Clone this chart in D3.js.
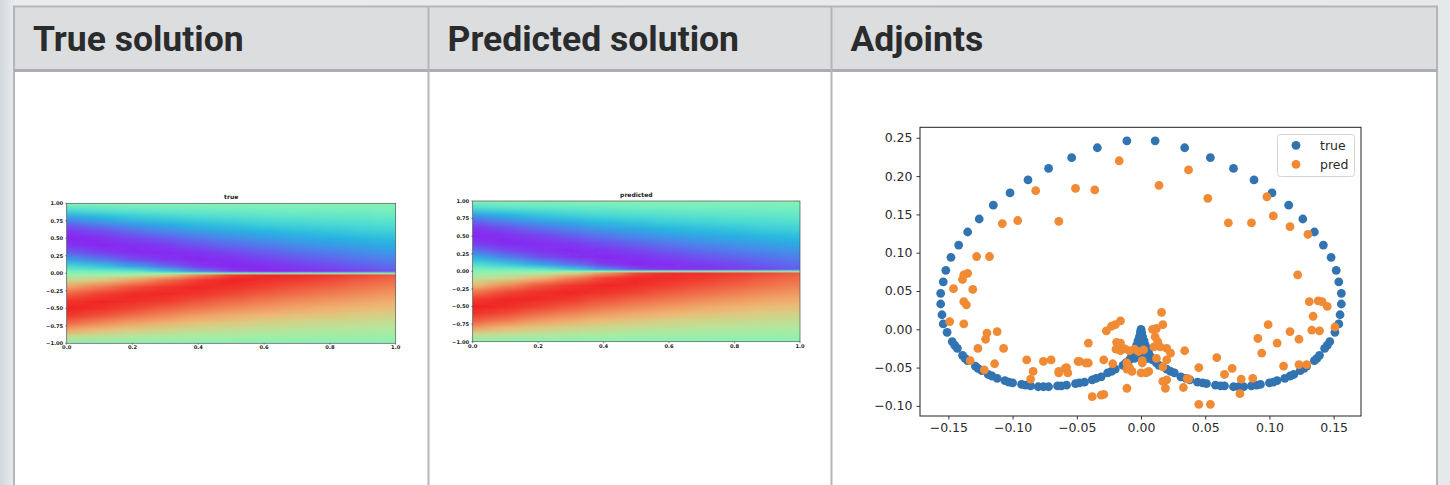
<!DOCTYPE html>
<html>
<head>
<meta charset="utf-8">
<script src="https://cdn.jsdelivr.net/npm/d3@7"></script>
<style>
  html, body { margin: 0; padding: 0; background: #e8ebee; }
  svg { display: block; }
</style>
</head>
<body>
<svg id="page" width="1450" height="485"></svg>
<script>
// ---- data ----
var headers = ["True solution", "Predicted solution", "Adjoints"];

// heatmap sample grid (time columns, space rows)
var tCols = [0, 0.1, 0.2, 0.3, 0.4, 0.5, 0.6, 0.7, 0.8, 0.9, 1.0];
var yRows = [1, 0.9, 0.8, 0.7, 0.6, 0.5, 0.4, 0.3, 0.2, 0.1, 0.03, 0, -0.03,
             -0.1, -0.2, -0.3, -0.4, -0.5, -0.6, -0.7, -0.8, -0.9, -1];

var trueU = [
  [0,-0.31,-0.59,-0.81,-0.95,-1,-0.95,-0.81,-0.59,-0.31,-0.09,0,0.09,0.31,0.59,0.81,0.95,1,0.95,0.81,0.59,0.31,0],
  [0,-0.25,-0.49,-0.70,-0.87,-0.97,-0.99,-0.92,-0.73,-0.41,-0.13,0,0.13,0.41,0.73,0.92,0.99,0.97,0.87,0.70,0.49,0.25,0],
  [0,-0.21,-0.41,-0.60,-0.77,-0.90,-0.97,-0.98,-0.87,-0.58,-0.20,0,0.20,0.58,0.87,0.98,0.97,0.90,0.77,0.60,0.41,0.21,0],
  [0,-0.18,-0.36,-0.53,-0.68,-0.82,-0.93,-0.98,-0.96,-0.77,-0.40,0,0.40,0.77,0.96,0.98,0.93,0.82,0.68,0.53,0.36,0.18,0],
  [0,-0.155,-0.31,-0.46,-0.60,-0.74,-0.85,-0.95,-0.99,-0.94,-0.70,0,0.70,0.94,0.99,0.95,0.85,0.74,0.60,0.46,0.31,0.155,0],
  [0,-0.14,-0.28,-0.42,-0.54,-0.67,-0.78,-0.89,-0.96,-1,-0.93,0,0.93,1,0.96,0.89,0.78,0.67,0.54,0.42,0.28,0.14,0],
  [0,-0.12,-0.25,-0.37,-0.49,-0.61,-0.72,-0.82,-0.91,-0.97,-0.99,0,0.99,0.97,0.91,0.82,0.72,0.61,0.49,0.37,0.25,0.12,0],
  [0,-0.11,-0.23,-0.34,-0.45,-0.56,-0.66,-0.76,-0.85,-0.93,-0.97,0,0.97,0.93,0.85,0.76,0.66,0.56,0.45,0.34,0.23,0.11,0],
  [0,-0.10,-0.21,-0.31,-0.42,-0.52,-0.61,-0.71,-0.80,-0.88,-0.94,0,0.94,0.88,0.80,0.71,0.61,0.52,0.42,0.31,0.21,0.10,0],
  [0,-0.10,-0.20,-0.29,-0.38,-0.48,-0.57,-0.66,-0.74,-0.82,-0.89,0,0.89,0.82,0.74,0.66,0.57,0.48,0.38,0.29,0.20,0.10,0],
  [0,-0.09,-0.18,-0.27,-0.36,-0.45,-0.53,-0.61,-0.69,-0.77,-0.83,0,0.83,0.77,0.69,0.61,0.53,0.45,0.36,0.27,0.18,0.09,0]
];

var predU = [
  [0,-0.30,-0.60,-0.83,-0.96,-0.99,-0.93,-0.76,-0.52,-0.27,-0.08,0,0.06,0.22,0.47,0.74,0.93,1,0.96,0.83,0.61,0.30,0],
  [0,-0.24,-0.50,-0.72,-0.88,-0.97,-0.98,-0.89,-0.69,-0.39,-0.12,0,0.10,0.33,0.66,0.90,0.99,0.98,0.88,0.72,0.50,0.25,0],
  [0,-0.21,-0.42,-0.61,-0.78,-0.91,-0.97,-0.96,-0.85,-0.56,-0.19,0,0.17,0.50,0.84,0.97,0.98,0.91,0.78,0.61,0.42,0.21,0],
  [0,-0.18,-0.36,-0.54,-0.69,-0.83,-0.93,-0.98,-0.95,-0.75,-0.38,0,0.35,0.72,0.95,0.99,0.94,0.83,0.69,0.54,0.37,0.18,0],
  [0,-0.16,-0.31,-0.46,-0.61,-0.74,-0.86,-0.95,-0.99,-0.93,-0.66,0,0.64,0.92,0.99,0.96,0.86,0.75,0.61,0.47,0.31,0.16,0],
  [0,-0.14,-0.28,-0.42,-0.55,-0.67,-0.79,-0.89,-0.96,-0.99,-0.90,0,0.90,0.99,0.97,0.90,0.79,0.68,0.55,0.42,0.28,0.14,0],
  [0,-0.12,-0.25,-0.37,-0.49,-0.61,-0.72,-0.82,-0.91,-0.97,-0.97,0,0.97,0.97,0.92,0.83,0.73,0.62,0.50,0.37,0.25,0.12,0],
  [0,-0.11,-0.23,-0.34,-0.45,-0.56,-0.66,-0.76,-0.85,-0.93,-0.96,0,0.96,0.93,0.86,0.77,0.67,0.56,0.45,0.34,0.23,0.11,0],
  [0,-0.10,-0.21,-0.31,-0.42,-0.52,-0.62,-0.71,-0.80,-0.88,-0.93,0,0.93,0.88,0.81,0.72,0.62,0.52,0.42,0.31,0.21,0.10,0],
  [0,-0.10,-0.20,-0.29,-0.38,-0.48,-0.57,-0.66,-0.75,-0.82,-0.88,0,0.88,0.82,0.75,0.66,0.57,0.48,0.38,0.29,0.20,0.10,0],
  [0,-0.09,-0.18,-0.27,-0.36,-0.45,-0.53,-0.62,-0.70,-0.77,-0.82,0,0.82,0.77,0.70,0.62,0.54,0.45,0.36,0.27,0.18,0.09,0]
];

var heatXTicks = [0, 0.2, 0.4, 0.6, 0.8, 1.0];
var heatYTicks = [1, 0.75, 0.5, 0.25, 0, -0.25, -0.5, -0.75, -1];

// adjoint scatter points [x, y]
var trueAdj = [
  [-0.011,0.246],[-0.034,0.237],[-0.054,0.224],[-0.072,0.210],[-0.088,0.195],[-0.102,0.178],[-0.115,0.162],
  [-0.126,0.144],[-0.135,0.127],[-0.142,0.110],[-0.148,0.094],[-0.152,0.077],[-0.154,0.062],[-0.156,0.047],
  [-0.156,0.033],[-0.155,0.019],[-0.154,0.007],[-0.151,-0.004],[-0.147,-0.016],[-0.145,-0.021],[-0.143,-0.025],
  [-0.139,-0.034],[-0.137,-0.038],[-0.135,-0.041],[-0.129,-0.048],[-0.127,-0.051],[-0.124,-0.054],[-0.119,-0.059],
  [-0.116,-0.061],[-0.112,-0.064],[-0.106,-0.067],[-0.103,-0.069],[-0.100,-0.070],[-0.093,-0.072],[-0.090,-0.073],
  [-0.086,-0.074],[-0.080,-0.075],[-0.076,-0.075],[-0.072,-0.075],[-0.065,-0.074],[-0.062,-0.074],[-0.058,-0.073],
  [-0.051,-0.071],[-0.048,-0.070],[-0.044,-0.069],[-0.038,-0.066],[-0.035,-0.064],[-0.031,-0.062],[-0.026,-0.057],
  [-0.023,-0.055],[-0.020,-0.052],[-0.014,-0.047],[-0.012,-0.044],[-0.009,-0.040],[-0.0075,-0.036],[-0.006,-0.031],
  [-0.0047,-0.026],[-0.0034,-0.021],[-0.0024,-0.015],[-0.0013,-0.010],[-0.0005,-0.004],
  [0,0],[0,-0.008],[0,-0.016],[0,-0.024],[0,-0.032],[-0.003,-0.030],[0.003,-0.030],[-0.005,-0.038],[0.005,-0.038],
  [0.011,0.246],[0.034,0.237],[0.054,0.224],[0.072,0.210],[0.088,0.195],[0.102,0.178],[0.115,0.162],
  [0.126,0.144],[0.135,0.127],[0.142,0.110],[0.148,0.094],[0.152,0.077],[0.154,0.062],[0.156,0.047],
  [0.156,0.033],[0.155,0.019],[0.154,0.007],[0.151,-0.004],[0.147,-0.016],[0.145,-0.021],[0.143,-0.025],
  [0.139,-0.034],[0.137,-0.038],[0.135,-0.041],[0.129,-0.048],[0.127,-0.051],[0.124,-0.054],[0.119,-0.059],
  [0.116,-0.061],[0.112,-0.064],[0.106,-0.067],[0.103,-0.069],[0.100,-0.070],[0.093,-0.072],[0.090,-0.073],
  [0.086,-0.074],[0.080,-0.075],[0.076,-0.075],[0.072,-0.075],[0.065,-0.074],[0.062,-0.074],[0.058,-0.073],
  [0.051,-0.071],[0.048,-0.070],[0.044,-0.069],[0.038,-0.066],[0.035,-0.064],[0.031,-0.062],[0.026,-0.057],
  [0.023,-0.055],[0.020,-0.052],[0.014,-0.047],[0.012,-0.044],[0.009,-0.040],[0.0075,-0.036],[0.006,-0.031],
  [0.0047,-0.026],[0.0034,-0.021],[0.0024,-0.015],[0.0013,-0.010],[0.0005,-0.004]
];

var predAdj = [
  [-0.146,0.053],[-0.139,0.065],[-0.138,0.071],[-0.135,0.073],[-0.131,0.052],[-0.128,0.095],[-0.118,0.095],
  [-0.108,0.138],[-0.096,0.142],[-0.082,0.181],[-0.064,0.141],[-0.051,0.184],[-0.036,0.182],[-0.017,0.220],
  [0.014,0.188],[0.037,0.208],[0.052,0.171],[0.068,0.139],[0.086,0.139],[0.098,0.173],[0.103,0.148],
  [0.116,0.134],[0.130,0.124],[0.122,0.071],
  [0.131,0.036],[0.138,0.037],[0.141,0.036],[0.145,0.030],[0.134,0.017],[0.133,-0.001],[0.139,-0.002],
  [0.151,0.003],[0.116,-0.003],[0.123,-0.013],[0.099,0.006],[0.091,-0.012],[0.106,-0.018],[0.094,-0.031],
  [0.111,-0.048],[0.123,-0.046],[0.129,-0.046],[0.087,-0.064],[0.078,-0.065],[0.077,-0.084],[0.071,-0.051],
  [0.065,-0.059],[0.059,-0.037],[0.045,-0.050],[0.037,-0.065],[0.033,-0.076],[0.034,-0.028],[0.045,-0.098],
  [0.054,-0.098],[0.017,-0.068],[0.019,-0.077],[0.020,-0.066],[0.036,-0.064],
  [0.016,0.022],[0.017,0.006],[0.012,0.001],[0.009,0.000],[0.011,-0.010],[0.013,-0.016],[0.010,-0.023],
  [0.015,-0.023],[0.020,-0.025],[0.023,-0.031],[0.020,-0.040],[0.017,-0.049],[0.012,-0.038],
  [0.001,-0.044],[0.004,-0.057],[0.000,-0.057],[0.006,-0.055],[0.001,-0.041],
  [-0.011,-0.077],[-0.029,-0.085],[-0.016,0.011],[-0.023,0.004],[-0.027,-0.002],[-0.020,0.006],
  [-0.019,-0.017],[-0.016,-0.018],[-0.011,-0.052],[-0.022,-0.045],[-0.029,-0.040],[-0.0195,-0.026],
  [-0.016,-0.028],[-0.0125,-0.0255],[-0.009,-0.028],[-0.005,-0.026],[-0.002,-0.029],[0.002,-0.027],
  [-0.011,-0.044],[-0.009,-0.050],[-0.007,-0.055],[-0.041,-0.018],[-0.049,-0.042],[-0.043,-0.044],
  [-0.038,-0.088],[-0.031,-0.086],
  [-0.138,0.036],[-0.136,0.032],[-0.149,0.010],[-0.138,0.007],[-0.120,-0.005],[-0.121,-0.013],[-0.112,-0.003],
  [-0.127,-0.025],[-0.107,-0.025],[-0.133,-0.041],[-0.122,-0.053],[-0.114,-0.045],[-0.089,-0.040],[-0.084,-0.055],
  [-0.086,-0.065],[-0.076,-0.042],[-0.070,-0.040],[-0.064,-0.057],[-0.058,-0.050],[-0.057,-0.057],[-0.048,-0.042],
  [-0.041,-0.044],[-0.064,-0.055],[-0.059,-0.051]
];

var adjXTicks = [-0.15, -0.10, -0.05, 0.00, 0.05, 0.10, 0.15];
var adjYTicks = [-0.10, -0.05, 0.00, 0.05, 0.10, 0.15, 0.20, 0.25];
var legendNames = ["true", "pred"];
var adjColors = ["#3274b2", "#f08a34"];

// ---- page / table ----
var svg = d3.select("#page");
var defs = svg.append("defs");

var bg = defs.append("linearGradient").attr("id", "bg");
bg.append("stop").attr("offset", "0").attr("stop-color", "#d3d8dc");
bg.append("stop").attr("offset", "0.01").attr("stop-color", "#e9ecef");
bg.append("stop").attr("offset", "1").attr("stop-color", "#e6e9ec");
svg.append("rect").attr("width", 1450).attr("height", 485).attr("fill", "url(#bg)");

var table = { left: 14, right: 1437, top: 6.5, head: 70.5 };
var colEdges = [14, 428.5, 831.5, 1437];

svg.append("rect")
  .attr("x", table.left).attr("y", table.top)
  .attr("width", table.right - table.left).attr("height", 500)
  .attr("fill", "#ffffff");
svg.append("rect")
  .attr("x", table.left).attr("y", table.top)
  .attr("width", table.right - table.left).attr("height", table.head - table.top)
  .attr("fill", "#dcdddf");

// borders
svg.append("rect")
  .attr("x", table.left).attr("y", table.top)
  .attr("width", table.right - table.left).attr("height", 500)
  .attr("fill", "none").attr("stroke", "#b4b6b9").attr("stroke-width", 2);
svg.append("line")
  .attr("x1", table.left).attr("x2", table.right)
  .attr("y1", table.head).attr("y2", table.head)
  .attr("stroke", "#abadb0").attr("stroke-width", 3);
svg.selectAll(".coldiv").data(colEdges.slice(1, 3)).enter().append("line")
  .attr("x1", d => d).attr("x2", d => d)
  .attr("y1", table.top).attr("y2", 485)
  .attr("stroke", "#b4b6b9").attr("stroke-width", 2);

svg.selectAll(".head").data(headers).enter().append("text")
  .attr("x", (d, i) => colEdges[i] + 19)
  .attr("y", 50.5)
  .attr("font-family", "Roboto, sans-serif")
  .attr("font-weight", 700)
  .attr("font-size", "35.5px")
  .attr("fill", "#2a2b2d")
  .text(d => d);

// ---- heatmaps ----
// matplotlib "rainbow" colormap, slightly washed out like the screenshot
function rainbow(u) {
  var s = Math.max(0, Math.min(1, (u + 1) / 2));
  var r = Math.min(1, Math.abs(2 * s - 0.5));
  var g = Math.sin(Math.PI * s);
  var b = Math.cos(Math.PI * s / 2);
  var k = 0.8, o = 36;
  return d3.rgb(r * 255 * k + o, g * 255 * k + o, b * 255 * k + o).formatHex();
}

function drawHeat(id, U, box, title) {
  var x = d3.scaleLinear().domain([0, 1]).range([box.x0, box.x1]);
  var y = d3.scaleLinear().domain([-1, 1]).range([box.y1, box.y0]);

  // one vertical gradient per time column
  U.forEach(function(col, i) {
    var grad = defs.append("linearGradient")
      .attr("id", id + "g" + i)
      .attr("x1", 0).attr("y1", 0).attr("x2", 0).attr("y2", 1);
    col.forEach(function(u, j) {
      grad.append("stop")
        .attr("offset", (1 - yRows[j]) / 2)
        .attr("stop-color", rainbow(u));
    });
  });

  defs.append("clipPath").attr("id", id + "clip")
    .append("rect")
    .attr("x", box.x0).attr("y", box.y0)
    .attr("width", box.x1 - box.x0).attr("height", box.y1 - box.y0);

  var f = defs.append("filter").attr("id", id + "blur")
    .attr("filterUnits", "userSpaceOnUse")
    .attr("x", box.x0 - 80).attr("y", box.y0 - 5)
    .attr("width", box.x1 - box.x0 + 160).attr("height", box.y1 - box.y0 + 10);
  f.append("feGaussianBlur").attr("stdDeviation", "11 0");

  var g = svg.append("g");
  var cells = g.append("g").attr("clip-path", "url(#" + id + "clip)")
    .append("g").attr("filter", "url(#" + id + "blur)");

  cells.selectAll("rect").data(tCols).enter().append("rect")
    .attr("x", (t, i) => x(i === 0 ? -0.2 : t - 0.05))
    .attr("width", (t, i) => x(i === tCols.length - 1 ? 1.2 : t + 0.05) - x(i === 0 ? -0.2 : t - 0.05) + 0.5)
    .attr("y", y(1))
    .attr("height", y(-1) - y(1))
    .attr("fill", (t, i) => "url(#" + id + "g" + i + ")");

  g.append("rect")
    .attr("x", box.x0).attr("y", box.y0)
    .attr("width", box.x1 - box.x0).attr("height", box.y1 - box.y0)
    .attr("fill", "none").attr("stroke", "#4a5650").attr("stroke-width", 0.7);

  var small = { "font-family": "DejaVu Sans, sans-serif", "font-size": "5.2px", "font-weight": "bold", "fill": "#1a1a1a" };

  var yl = g.selectAll(".yl").data(heatYTicks).enter().append("text")
    .attr("x", box.x0 - 3.5).attr("y", d => y(d) + 1.9)
    .attr("text-anchor", "end")
    .text(d => d3.format(".2f")(d));
  var xl = g.selectAll(".xl").data(heatXTicks).enter().append("text")
    .attr("x", d => x(d)).attr("y", box.y1 + 6)
    .attr("text-anchor", "middle")
    .text(d => d3.format(".1f")(d));
  [yl, xl].forEach(function(sel) {
    Object.keys(small).forEach(k => sel.attr(k, small[k]));
  });
  g.selectAll(".yt").data(heatYTicks).enter().append("line")
    .attr("x1", box.x0 - 1.5).attr("x2", box.x0)
    .attr("y1", d => y(d)).attr("y2", d => y(d))
    .attr("stroke", "#222").attr("stroke-width", 0.5);
  g.selectAll(".xt").data(heatXTicks).enter().append("line")
    .attr("x1", d => x(d)).attr("x2", d => x(d))
    .attr("y1", box.y1).attr("y2", box.y1 + 1.5)
    .attr("stroke", "#222").attr("stroke-width", 0.5);

  g.append("text")
    .attr("x", (box.x0 + box.x1) / 2).attr("y", box.y0 - 4.5)
    .attr("text-anchor", "middle")
    .attr("font-family", "DejaVu Sans, sans-serif")
    .attr("font-size", "6px")
    .attr("font-weight", "bold")
    .attr("fill", "#1a1a1a")
    .text(title);
}

drawHeat("tr", trueU, { x0: 66.7, x1: 395.7, y0: 203.3, y1: 343.3 }, "true");
drawHeat("pr", predU, { x0: 472.7, x1: 800, y0: 201, y1: 341.7 }, "predicted");

// ---- adjoint scatter ----
var ax = { x0: 920, x1: 1361, y0: 127.3, y1: 416 };
var xS = d3.scaleLinear().domain([-0.1721, 0.1713]).range([ax.x0, ax.x1]);
var yS = d3.scaleLinear().domain([-0.1132, 0.2637]).range([ax.y1, ax.y0]);

var sg = svg.append("g");
sg.append("g").selectAll("circle").data(trueAdj).enter().append("circle")
  .attr("cx", d => xS(d[0])).attr("cy", d => yS(d[1]))
  .attr("r", 4.4).attr("fill", adjColors[0]);
sg.append("g").selectAll("circle").data(predAdj).enter().append("circle")
  .attr("cx", d => xS(d[0])).attr("cy", d => yS(d[1]))
  .attr("r", 4.4).attr("fill", adjColors[1]);

var fmt = d3.format(".2f");
var xAxis = sg.append("g")
  .attr("transform", `translate(0, ${ax.y1})`)
  .call(d3.axisBottom(xS).tickValues(adjXTicks).tickSize(3.5).tickPadding(4).tickFormat(fmt));
var yAxis = sg.append("g")
  .attr("transform", `translate(${ax.x0}, 0)`)
  .call(d3.axisLeft(yS).tickValues(adjYTicks).tickSize(3.5).tickPadding(4).tickFormat(fmt));
[xAxis, yAxis].forEach(function(a) {
  a.select(".domain").remove();
  a.selectAll("line").attr("stroke", "#222").attr("stroke-width", 0.9);
  a.selectAll("text")
    .attr("font-family", "DejaVu Sans, sans-serif")
    .attr("font-size", "12.5px")
    .attr("fill", "#2b2b2b");
});

sg.append("rect")
  .attr("x", ax.x0).attr("y", ax.y0)
  .attr("width", ax.x1 - ax.x0).attr("height", ax.y1 - ax.y0)
  .attr("fill", "none").attr("stroke", "#222").attr("stroke-width", 1);

// legend
var lg = sg.append("g");
lg.append("rect")
  .attr("x", 1277.5).attr("y", 134.5).attr("width", 77).attr("height", 42)
  .attr("rx", 3).attr("fill", "#ffffff").attr("fill-opacity", 0.85)
  .attr("stroke", "#d3d3d3");
lg.selectAll("circle").data(legendNames).enter().append("circle")
  .attr("cx", 1296).attr("cy", (d, i) => 145.3 + i * 19)
  .attr("r", 4.4).attr("fill", (d, i) => adjColors[i]);
lg.selectAll("text").data(legendNames).enter().append("text")
  .attr("x", 1320).attr("y", (d, i) => 150 + i * 19)
  .attr("font-family", "DejaVu Sans, sans-serif")
  .attr("font-size", "12.5px")
  .attr("fill", "#2b2b2b")
  .text(d => d);
</script>
</body>
</html>
